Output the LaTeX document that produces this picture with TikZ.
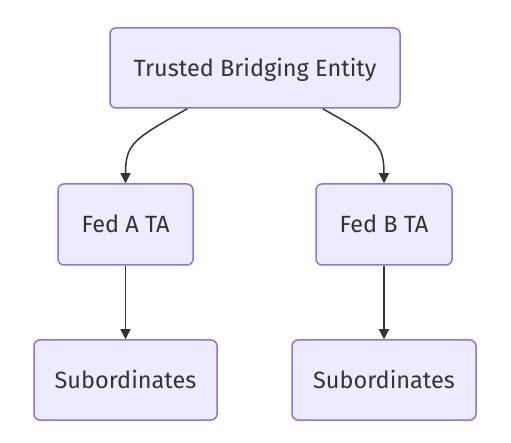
\documentclass[tikz,border=0pt]{standalone}
\usepackage{fontspec}
\setmainfont{Fira Sans}
\usetikzlibrary{arrows.meta,calc}
\definecolor{nodefill}{HTML}{ECECFF}
\definecolor{nodeline}{HTML}{9370DB}
\definecolor{ink}{HTML}{333333}
\begin{document}
\begin{tikzpicture}[x=1pt,y=-1pt,
  box/.style={draw=nodeline,fill=nodefill,line width=1.5pt,rounded corners=6pt,
    inner sep=0pt,text=ink,text height=17pt,text depth=0pt,font=\fontsize{23.5}{26}\selectfont},
  edge/.style={draw=ink,line width=1.5pt,-{Triangle[length=10pt,width=10pt]}}]
\useasboundingbox (0,0) rectangle (511,443);
\node[box,minimum width=290pt,minimum height=80pt] (t) at (255,68) {Trusted Bridging Entity};
\node[box,minimum width=135pt,minimum height=81pt] (fa) at (125.5,224.5) {Fed A TA};
\node[box,minimum width=136pt,minimum height=81pt] (fb) at (384,224.5) {Fed B TA};
\node[box,minimum width=183pt,minimum height=80pt] (sa) at (125.5,380) {Subordinates};
\node[box,minimum width=184pt,minimum height=80pt] (sb) at (384,380) {Subordinates};
\draw[edge] ($(t.south west)+(78,0)$) .. controls ($(t.south west)+(25,30)$) and ($(fa.north)+(0,-40)$) .. (fa.north);
\draw[edge] ($(t.south east)+(-78,0)$) .. controls ($(t.south east)+(-25,30)$) and ($(fb.north)+(0,-40)$) .. (fb.north);
\draw[edge] (fa.south) -- (sa.north);
\draw[edge] (fb.south) -- (sb.north);
\end{tikzpicture}
\end{document}
